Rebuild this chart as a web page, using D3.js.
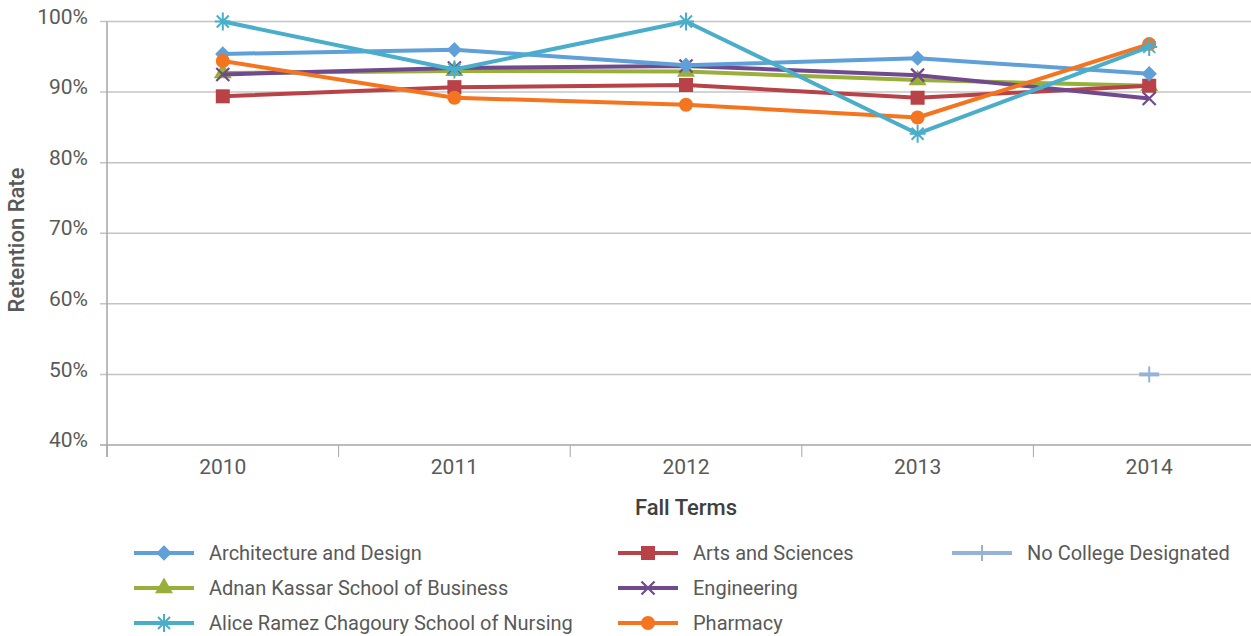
<!DOCTYPE html>
<html>
<head>
<meta charset="utf-8">
<script src="https://d3js.org/d3.v7.min.js"></script>
<style>
  body { margin: 0; background: #fff; }
  text { font-family: Roboto, "Liberation Sans", sans-serif; fill: #595959; }
</style>
</head>
<body>
<svg id="chart"></svg>
<script>
// data
var years = ["2010", "2011", "2012", "2013", "2014"];
var yTicks = [40, 50, 60, 70, 80, 90, 100];
var architecture = [95.4, 96.0, 93.8, 94.8, 92.6];
var arts = [89.4, 90.7, 91.0, 89.2, 90.9];
var business = [92.7, 93.0, 92.9, 91.7, 90.9];
var nursing = [100, 93.2, 100, 84.1, 96.4];
var engineering = [92.5, 93.4, 93.7, 92.4, 89.1];
var pharmacy = [94.4, 89.2, 88.2, 86.4, 96.8];
var noCollege = [null, null, null, null, 50];

var series = [
  {name: "Architecture and Design", values: architecture, color: "#5fa0d9", marker: "diamond"},
  {name: "Arts and Sciences", values: arts, color: "#b84247", marker: "square"},
  {name: "No College Designated", values: noCollege, color: "#95b3d7", marker: "plus"},
  {name: "Adnan Kassar School of Business", values: business, color: "#98b03a", marker: "triangle"},
  {name: "Engineering", values: engineering, color: "#704a8c", marker: "x"},
  {name: "Alice Ramez Chagoury School of Nursing", values: nursing, color: "#4aaecb", marker: "star"},
  {name: "Pharmacy", values: pharmacy, color: "#f47420", marker: "circle"}
];
// drawing order (back to front)
var drawOrder = [2, 3, 1, 4, 0, 6, 5];

var width = 1251, height = 636;
var svg = d3.select("#chart").attr("width", width).attr("height", height);

var plotLeft = 107, plotRight = 1265, plotTop = 21.5, plotBottom = 445;

var x = d3.scaleBand().domain(years).range([plotLeft, plotRight]);
var y = d3.scaleLinear().domain([40, 100]).range([plotBottom, plotTop]);

// gridlines
svg.append("g")
  .selectAll("line")
  .data(yTicks)
  .enter()
  .append("line")
  .attr("x1", plotLeft - 7)
  .attr("x2", width)
  .attr("y1", function(d) { return y(d); })
  .attr("y2", function(d) { return y(d); })
  .attr("stroke", function(d) { return d == 40 ? "#a6a6a6" : "#c4c4c4"; })
  .attr("stroke-width", 1.5);

// y axis line
svg.append("line")
  .attr("x1", plotLeft).attr("x2", plotLeft)
  .attr("y1", plotTop).attr("y2", plotBottom + 12)
  .attr("stroke", "#a6a6a6").attr("stroke-width", 1.5);

// x category ticks
svg.append("g")
  .selectAll("line")
  .data(years)
  .enter()
  .append("line")
  .attr("x1", function(d) { return x(d); })
  .attr("x2", function(d) { return x(d); })
  .attr("y1", plotBottom)
  .attr("y2", plotBottom + 12)
  .attr("stroke", "#a6a6a6").attr("stroke-width", 1);

// y tick labels
svg.append("g")
  .selectAll("text")
  .data(yTicks)
  .enter()
  .append("text")
  .attr("x", 88)
  .attr("y", function(d) { return y(d); })
  .attr("dy", "0.1em")
  .attr("text-anchor", "end")
  .style("font-size", "21px")
  .text(function(d) { return d + "%"; });

// x tick labels
svg.append("g")
  .selectAll("text")
  .data(years)
  .enter()
  .append("text")
  .attr("x", function(d) { return x(d) + x.bandwidth() / 2; })
  .attr("y", 474)
  .attr("text-anchor", "middle")
  .style("font-size", "21px")
  .text(function(d) { return d; });

// axis titles
svg.append("text")
  .attr("transform", "translate(24,240) rotate(-90)")
  .attr("text-anchor", "middle")
  .style("font-size", "22px")
  .style("font-weight", "500")
  .text("Retention Rate");

svg.append("text")
  .attr("x", 686)
  .attr("y", 515)
  .attr("text-anchor", "middle")
  .style("font-size", "22px")
  .style("font-weight", "500")
  .style("fill", "#404040")
  .text("Fall Terms");

// markers
var drawMarker = function(g, type, color, cx, cy) {
  if (type == "diamond") {
    g.append("path").attr("d", d3.symbol().type(d3.symbolDiamond2).size(150)())
      .attr("transform", "translate(" + cx + "," + cy + ")").attr("fill", color);
  } else if (type == "square") {
    g.append("rect").attr("x", cx - 7).attr("y", cy - 7).attr("width", 14).attr("height", 14).attr("fill", color);
  } else if (type == "triangle") {
    g.append("path").attr("d", d3.symbol().type(d3.symbolTriangle).size(140)())
      .attr("transform", "translate(" + cx + "," + cy + ")").attr("fill", color);
  } else if (type == "circle") {
    g.append("circle").attr("cx", cx).attr("cy", cy).attr("r", 7).attr("fill", color);
  } else if (type == "x") {
    g.append("path").attr("d", "M-6.5,-6.5L6.5,6.5M-6.5,6.5L6.5,-6.5")
      .attr("transform", "translate(" + cx + "," + cy + ")")
      .attr("stroke", color).attr("stroke-width", 2.2).attr("fill", "none");
  } else if (type == "star") {
    g.append("path").attr("d", "M-6,-6L6,6M-6,6L6,-6M-8,0L8,0M0,-9L0,9")
      .attr("transform", "translate(" + cx + "," + cy + ")")
      .attr("stroke", color).attr("stroke-width", 2).attr("fill", "none");
  } else if (type == "plus") {
    g.append("path").attr("d", "M0,-8L0,8")
      .attr("transform", "translate(" + cx + "," + cy + ")")
      .attr("stroke", color).attr("stroke-width", 2).attr("fill", "none");
  }
};

var line = d3.line()
  .defined(function(d) { return d.v != null; })
  .x(function(d) { return x(d.year) + x.bandwidth() / 2; })
  .y(function(d) { return y(d.v); });

drawOrder.forEach(function(i) {
  var s = series[i];
  var pts = years.map(function(yr, j) { return {year: yr, v: s.values[j]}; });
  var g = svg.append("g");
  g.append("path")
    .datum(pts)
    .attr("d", line)
    .attr("fill", "none")
    .attr("stroke", s.color)
    .attr("stroke-width", 4)
    .attr("stroke-linejoin", "round");
  pts.forEach(function(p) {
    if (p.v == null) return;
    var cx = x(p.year) + x.bandwidth() / 2, cy = y(p.v);
    if (s.marker == "plus") {
      g.append("line").attr("x1", cx - 10).attr("x2", cx + 10).attr("y1", cy).attr("y2", cy)
        .attr("stroke", s.color).attr("stroke-width", 4);
    }
    drawMarker(g, s.marker, s.color, cx, cy);
  });
});

// legend
var legendCols = [134, 618, 952];
var legendRows = [553, 588, 623];
var legendPos = [[0, 0], [1, 0], [2, 0], [0, 1], [1, 1], [0, 2], [1, 2]];
var legend = svg.append("g");
series.forEach(function(s, i) {
  var lx = legendCols[legendPos[i][0]], ly = legendRows[legendPos[i][1]];
  var g = legend.append("g");
  g.append("line")
    .attr("x1", lx).attr("x2", lx + 60)
    .attr("y1", ly).attr("y2", ly)
    .attr("stroke", s.color).attr("stroke-width", 4);
  drawMarker(g, s.marker, s.color, lx + 30, ly);
  g.append("text")
    .attr("x", lx + 75)
    .attr("y", ly)
    .attr("dy", "0.35em")
    .style("font-size", "20px")
    .text(s.name);
});
</script>
</body>
</html>
